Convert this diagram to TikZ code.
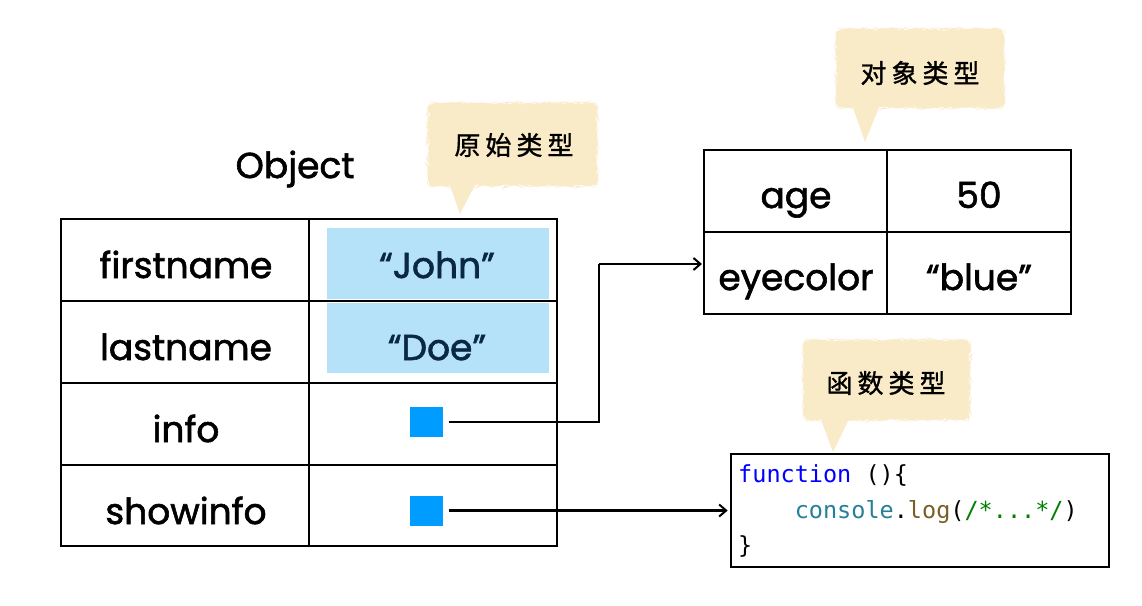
\documentclass[tikz,border=0pt]{standalone}
\usepackage{fontspec}
\setmainfont{Poppins}
\newfontfamily\cellfont{Poppins}[FakeBold=1.6]
\newfontfamily\cjk{Noto Sans CJK SC}[FakeBold=1.2]
\newfontfamily\codefont{DejaVu Sans Mono}
\usetikzlibrary{decorations.pathmorphing,arrows.meta}
\definecolor{cream}{HTML}{FAEBC8}
\definecolor{lblue}{HTML}{B5E2F9}
\definecolor{sqblue}{HTML}{009CFF}
\definecolor{navy}{HTML}{0A2845}
\definecolor{kwblue}{HTML}{0000FF}
\definecolor{teal}{HTML}{267F99}
\definecolor{logbrown}{HTML}{795E26}
\definecolor{cmtgreen}{HTML}{008000}
\tikzset{
  cell/.style={font=\cellfont\fontsize{36}{40}\selectfont, anchor=base, inner sep=0pt},
  tline/.style={line width=1.6pt, black},
  sq/.style={fill=sqblue, minimum width=33pt, minimum height=30pt, inner sep=0pt},
  conn/.style={line width=2.2pt, -{Straight Barb[length=7pt,width=12pt,line width=2pt]}},
  connplain/.style={line width=2.2pt},
  cjklabel/.style={font=\cjk\fontsize{26}{28}\selectfont},
  codeline/.style={font=\codefont\fontsize{23.5}{26}\selectfont, anchor=base west, inner sep=0pt},
  rough/.style={fill=cream, decorate, decoration={random steps, segment length=3pt, amplitude=1.2pt}},
}
\newcommand{\cs}{\hspace{5pt}}
\begin{document}
\begin{tikzpicture}[x=1pt,y=-1pt]
\useasboundingbox (0,0) rectangle (1142,605);

% callouts
\fill[rough, rounded corners=6pt] (428,103) rectangle (597,186);
\fill[cream] (449,183) -- (476,183) -- (460,214) -- cycle;
\node[cjklabel] (c1) at (514,145) {原\cs 始\cs 类\cs 型};

\fill[rough, rounded corners=6pt] (836,29) rectangle (1004,108);
\fill[cream] (852,105) -- (880,105) -- (865,142) -- cycle;
\node[cjklabel] (c2) at (920,73) {对\cs 象\cs 类\cs 型};

\fill[rough, rounded corners=6pt] (803,340) rectangle (970,420);
\fill[cream] (820,417) -- (850,417) -- (833,452) -- cycle;
\node[cjklabel] (c3) at (886,383) {函\cs 数\cs 类\cs 型};

% Object label
\node[cell] (objlbl) at (295,178) {Object};

% blue value boxes
\fill[lblue] (327,228) rectangle (549,299);
\fill[lblue] (327,303) rectangle (549,373);

% main table
\draw[tline] (61,219) rectangle (557,546);
\draw[tline] (309,219) -- (309,546);
\foreach \y in {301,383,465} \draw[tline] (61,\y) -- (557,\y);

\node[cell] (k1) at (186,278) {firstname};
\node[cell] (k2) at (186,360) {lastname};
\node[cell] (k3) at (186,442) {info};
\node[cell] (k4) at (186,524) {showinfo};
\node[cell, text=navy] (v1) at (437,278) {“John”};
\node[cell, text=navy] (v2) at (437,360) {“Doe”};

\node[sq] (s1) at (426,422) {};
\node[sq] (s2) at (426,510.5) {};

% right table
\draw[tline] (704,150) rectangle (1071,314);
\draw[tline] (887,150) -- (887,314);
\draw[tline] (704,232) -- (1071,232);
\node[cell] (r1) at (796,208) {age};
\node[cell] (r2) at (979,208) {50};
\node[cell] (r3) at (796,290) {eyecolor};
\node[cell] (r4) at (979,290) {“blue”};
\coordinate (rt) at (704,264);

% code box
\node[draw, line width=2.6pt, minimum width=378pt, minimum height=113pt, inner sep=0pt] (code) at (920,510.5) {};
\node[codeline] (l1) at (738,482) {\textcolor{kwblue}{function} ()\{};
\node[codeline] (l2) at (738,518) {\phantom{xxxx}\textcolor{teal}{console}.\textcolor{logbrown}{log}(\textcolor{cmtgreen}{/*...*/})};
\node[codeline] (l3) at (738,553) {\}};

% connectors
\coordinate (bend) at (599,264);
\draw[connplain] ([xshift=6pt]s1.east) -- (s1.east -| bend) -- (bend);
\draw[conn] (bend) -- ([xshift=-2pt]rt);
\draw[conn] ([xshift=6pt]s2.east) -- ([xshift=-2pt]code.west |- s2.east);
\end{tikzpicture}
\end{document}
